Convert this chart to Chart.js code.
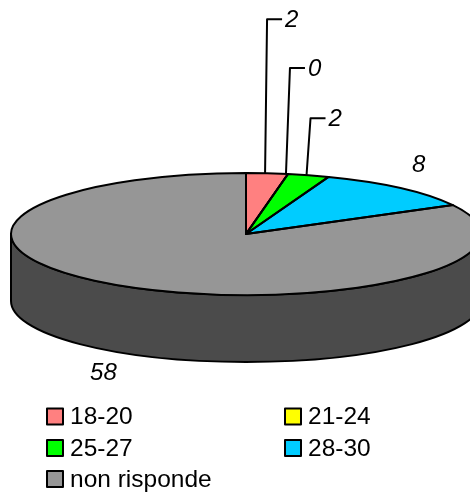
<!DOCTYPE html>
<html>
<head>
<meta charset="utf-8">
<style>
  html, body { margin: 0; padding: 0; background: #fff; }
  canvas { display: block; }
</style>
<script src="https://cdn.jsdelivr.net/npm/chart.js@4"></script>
</head>
<body>
<canvas id="pieChart" width="470" height="493"></canvas>
<script>
(function () {
  "use strict";

  const categories = ["18-20", "21-24", "25-27", "28-30", "non risponde"];
  const values = [2, 0, 2, 8, 58];

  const sliceColors = ["#FF8080", "#FFFF00", "#00FF00", "#00CCFF", "#969696"];
  const sideColors = ["#804040", "#808000", "#008000", "#006680", "#4B4B4B"];

  const RADIUS = 235;     // horizontal radius of the disc
  const SQUASH = 61 / 235; // vertical tilt of the disc
  const DEPTH = 67;       // thickness of the disc
  const LINE = 2;

  // label placement relative to the rim point of each slice
  const labelOffsets = [
    { knee: -154, dx: 2 },
    { knee: -106, dx: 4 },
    { knee: -57, dx: 4 },
    { x: 18, y: -23 },
    { x: -22, y: 87 }
  ];

  // legend cells, in reading order
  const legendCells = [
    { x: 47, y: 416.5 }, { x: 285, y: 416.5 },
    { x: 47, y: 448 }, { x: 285, y: 448 },
    { x: 47, y: 479 }
  ];

  function rimPoint(arc, angle) {
    return {
      x: arc.x + Math.cos(angle) * arc.outerRadius,
      y: arc.y + Math.sin(angle) * arc.outerRadius * SQUASH
    };
  }

  function ellipseArc(ctx, arc, dy, start, end, back) {
    ctx.ellipse(arc.x, arc.y + dy, arc.outerRadius, arc.outerRadius * SQUASH, 0, start, end, back);
  }

  // Turns the flat pie into a tilted disc with a visible side wall
  const discPlugin = {
    id: "disc",

    beforeDatasetsDraw(chart) {
      const ctx = chart.ctx;
      ctx.save();
      ctx.lineWidth = LINE;
      ctx.strokeStyle = "#000";
      ctx.lineJoin = "round";
      chart.getDatasetMeta(0).data.forEach(function (arc, i) {
        const start = Math.max(arc.startAngle, 0);
        const end = Math.min(arc.endAngle, Math.PI);
        if (end <= start) return;
        ctx.beginPath();
        ellipseArc(ctx, arc, 0, start, end, false);
        ellipseArc(ctx, arc, DEPTH, end, start, true);
        ctx.closePath();
        ctx.fillStyle = sideColors[i];
        ctx.fill();
        ctx.stroke();
      });
      ctx.restore();
    },

    beforeDatasetDraw(chart) {
      const arc = chart.getDatasetMeta(0).data[0];
      const ctx = chart.ctx;
      ctx.save();
      ctx.translate(0, arc.y);
      ctx.scale(1, SQUASH);
      ctx.translate(0, -arc.y);
    },

    afterDatasetDraw(chart) {
      chart.ctx.restore();
    },

    afterDatasetsDraw(chart) {
      const ctx = chart.ctx;
      const arcs = chart.getDatasetMeta(0).data;

      ctx.save();
      ctx.lineWidth = LINE;
      ctx.strokeStyle = "#000";
      ctx.lineJoin = "round";

      // slice outlines, stroked unscaled so the line keeps its width
      arcs.forEach(function (arc) {
        ctx.beginPath();
        ctx.moveTo(arc.x, arc.y);
        ellipseArc(ctx, arc, 0, arc.startAngle, arc.endAngle, false);
        ctx.closePath();
        ctx.stroke();
      });

      // value labels with leader lines
      ctx.fillStyle = "#000";
      ctx.font = "italic 24px 'Liberation Sans', Arial, sans-serif";
      ctx.textBaseline = "middle";
      arcs.forEach(function (arc, i) {
        const off = labelOffsets[i];
        const rim = rimPoint(arc, (arc.startAngle + arc.endAngle) / 2);
        if (off.knee !== undefined) {
          const foot = rim.x - 2;
          const kx = foot + off.dx;
          const ky = rim.y + off.knee;
          ctx.beginPath();
          ctx.moveTo(foot, rim.y);
          ctx.lineTo(kx, ky);
          ctx.lineTo(kx + 15, ky);
          ctx.stroke();
          ctx.textAlign = "left";
          ctx.fillText(String(values[i]), kx + 18, ky + 1);
        } else {
          ctx.textAlign = "center";
          ctx.fillText(String(values[i]), rim.x + off.x, rim.y + off.y);
        }
      });

      // legend
      ctx.font = "24.5px 'Liberation Sans', Arial, sans-serif";
      ctx.textAlign = "left";
      categories.forEach(function (name, i) {
        const cell = legendCells[i];
        ctx.fillStyle = sliceColors[i];
        ctx.fillRect(cell.x, cell.y - 8, 16, 16);
        ctx.strokeRect(cell.x, cell.y - 8, 16, 16);
        ctx.fillStyle = "#000";
        ctx.fillText(name, cell.x + 23, cell.y + 1);
      });
      ctx.restore();
    }
  };

  new Chart(document.getElementById("pieChart"), {
    type: "pie",
    data: {
      labels: categories,
      datasets: [
        {
          data: values,
          backgroundColor: sliceColors,
          borderWidth: 0,
          hoverOffset: 0,
          clip: false
        }
      ]
    },
    options: {
      responsive: false,
      animation: false,
      radius: RADIUS,
      layout: { padding: { left: 22, bottom: 25 } },
      plugins: {
        legend: { display: false },
        tooltip: { enabled: false }
      }
    },
    plugins: [discPlugin]
  });
})();
</script>
</body>
</html>
